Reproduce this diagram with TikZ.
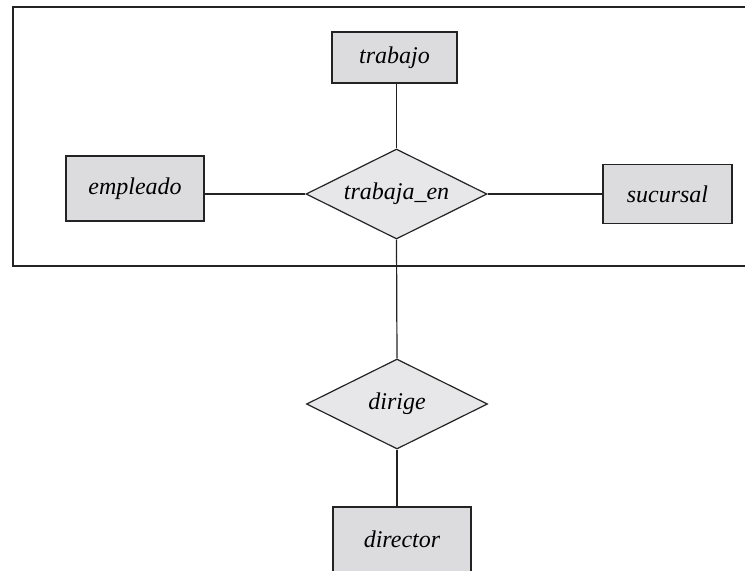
\documentclass[tikz,border=0pt]{standalone}
\usepackage{fontspec}
\setmainfont{Liberation Serif}
\usetikzlibrary{shapes.geometric}
\definecolor{entfill}{RGB}{220,220,222}
\definecolor{relfill}{RGB}{231,231,233}
\definecolor{erline}{RGB}{35,35,35}
\tikzset{
  entity/.style={draw=erline, fill=entfill, line width=0.6pt, font=\fontsize{12}{14}\selectfont\itshape, inner sep=0pt},
  relation/.style={diamond, aspect=2, draw=erline, fill=relfill, line width=0.6pt, font=\fontsize{12}{14}\selectfont\itshape,
    inner sep=0pt, minimum width=90.5pt, minimum height=45pt},
  link/.style={draw=erline, line width=0.6pt}
}

\begin{document}
\begin{tikzpicture}[x=0.5pt, y=-0.5pt]
  \useasboundingbox (0,0) rectangle (745,570);
  \clip (0,0) rectangle (745,570);
  % aggregation box, open on the right
  \draw[link] (760,7) -- (13,7) -- (13,266) -- (760,266);
  \node[entity, minimum width=62.5pt, minimum height=25.5pt] (trabajo) at (394.5,57.5) {trabajo};
  \node[entity, minimum width=69pt, minimum height=32.5pt] (empleado) at (135,188.5) {empleado};
  \node[relation] (tr) at (396.5,194) {trabaja\_en};
  \node[entity, minimum width=64.5pt, minimum height=29.5pt] (sucursal) at (667.5,194) {sucursal};
  \node[relation] (dirige) at (397,404) {dirige};
  \node[entity, minimum width=69pt, minimum height=32.5pt] (director) at (402,539.5) {director};
  \path[link]
  (tr.north |- trabajo.south) edge (tr.north)
  (tr.west -| empleado.east) edge (tr.west)
  (tr.east) edge (sucursal.west)
  (tr.south) edge (dirige.north)
  (dirige.south) edge (dirige.south |- director.north);
\end{tikzpicture}
\end{document}
